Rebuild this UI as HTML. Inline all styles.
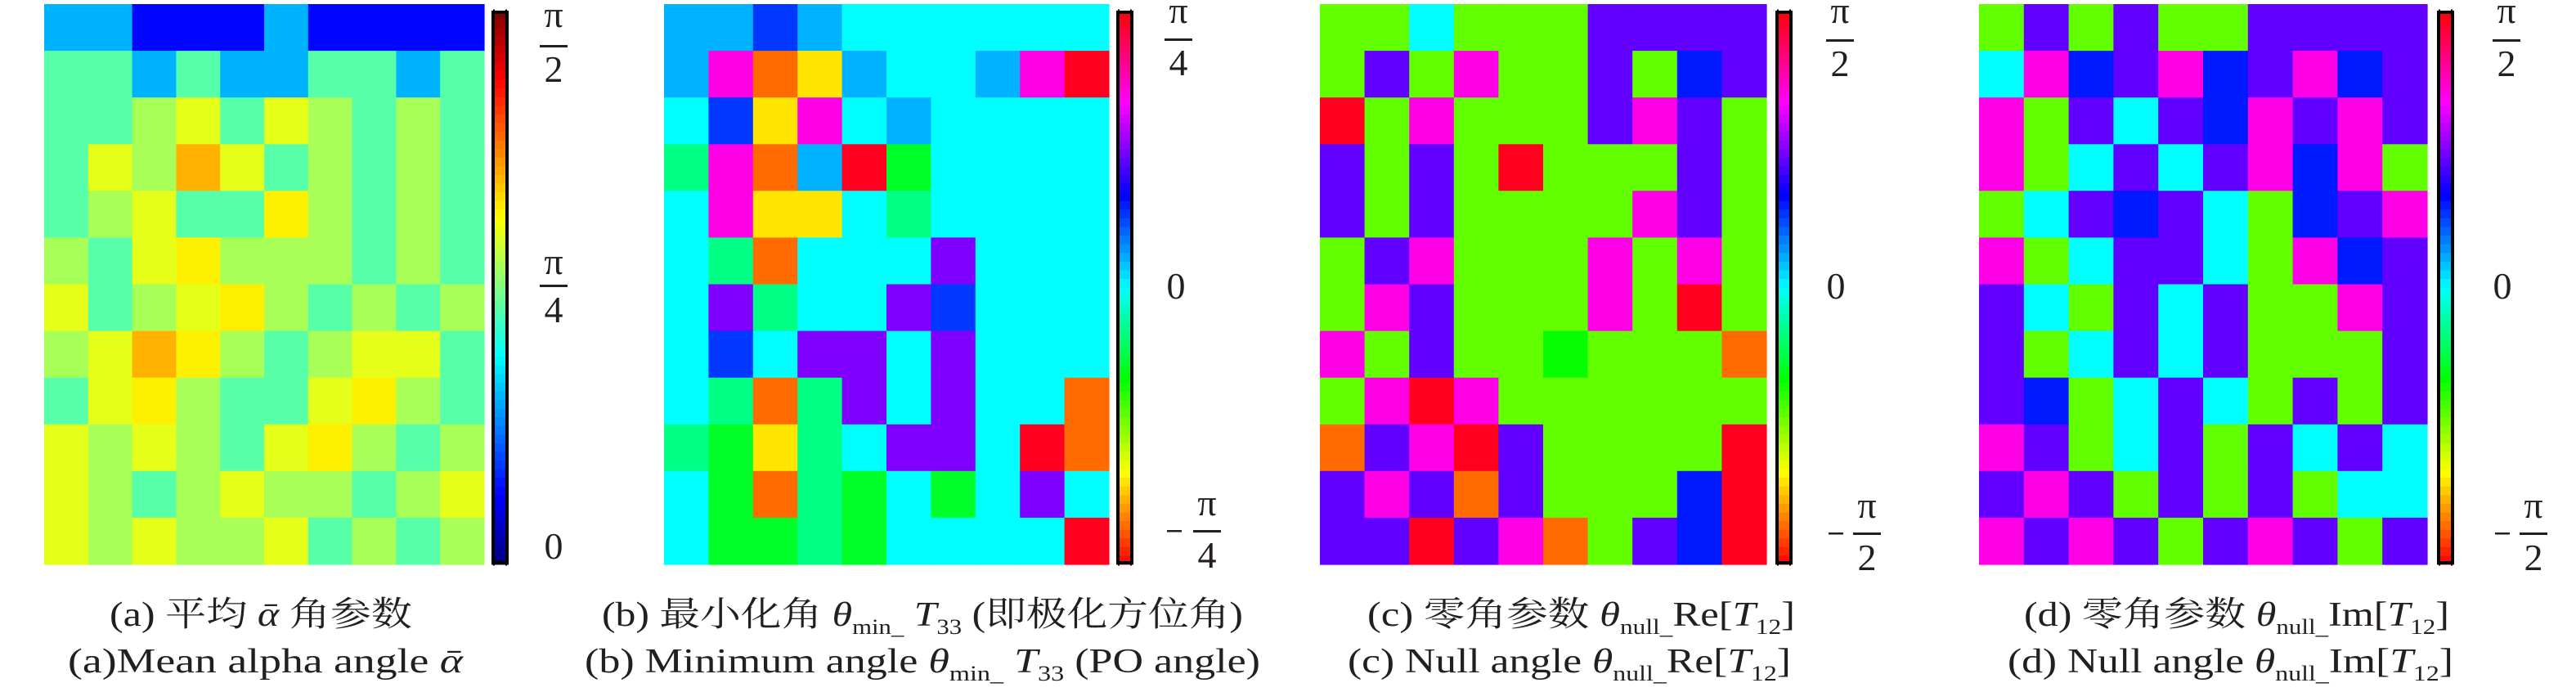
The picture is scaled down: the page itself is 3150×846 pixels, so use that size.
<!DOCTYPE html>
<html><head><meta charset="utf-8">
<style>
html,body{margin:0;padding:0;background:#fff;}
#root{position:relative;width:3150px;height:846px;overflow:hidden;}
svg text{font-family:"Liberation Serif","Noto Serif CJK SC","Noto Sans CJK SC",serif;fill:#231f1f;}
</style></head>
<body>
<div id="root">
<svg id="fig" width="3150" height="846" viewBox="0 0 3150 846" xmlns="http://www.w3.org/2000/svg">
<g id="panels"></g>
<g id="labels">
  <g font-size="46">
    <text x="677" y="33" text-anchor="middle">π</text>
    <rect x="660" y="55" width="34" height="3" fill="#231f1f"/>
    <text x="677" y="100" text-anchor="middle">2</text>
    <text x="677" y="335" text-anchor="middle">π</text>
    <rect x="660" y="348" width="34" height="3" fill="#231f1f"/>
    <text x="677" y="394" text-anchor="middle">4</text>
    <text x="677" y="683" text-anchor="middle">0</text>
  </g>
  <g font-size="46">
    <text x="1441" y="28" text-anchor="middle">π</text>
    <rect x="1424" y="47" width="34" height="3" fill="#231f1f"/>
    <text x="1441" y="92" text-anchor="middle">4</text>
    <text x="1438" y="365" text-anchor="middle">0</text>
    <rect x="1427" y="648" width="18" height="2.5" fill="#231f1f"/>
    <text x="1476" y="630" text-anchor="middle">π</text>
    <rect x="1459" y="648" width="34" height="3" fill="#231f1f"/>
    <text x="1476" y="694" text-anchor="middle">4</text>
  </g>
  <g font-size="46">
    <text x="2250" y="28" text-anchor="middle">π</text>
    <rect x="2233" y="48" width="34" height="3" fill="#231f1f"/>
    <text x="2250" y="93" text-anchor="middle">2</text>
    <text x="2245" y="365" text-anchor="middle">0</text>
    <rect x="2236" y="651" width="18" height="2.5" fill="#231f1f"/>
    <text x="2283" y="633" text-anchor="middle">π</text>
    <rect x="2266" y="651" width="34" height="3" fill="#231f1f"/>
    <text x="2283" y="697" text-anchor="middle">2</text>
  </g>
  <g font-size="46">
    <text x="3065" y="28" text-anchor="middle">π</text>
    <rect x="3048" y="48" width="34" height="3" fill="#231f1f"/>
    <text x="3065" y="93" text-anchor="middle">2</text>
    <text x="3060" y="365" text-anchor="middle">0</text>
    <rect x="3051" y="651" width="18" height="2.5" fill="#231f1f"/>
    <text x="3098" y="633" text-anchor="middle">π</text>
    <rect x="3081" y="651" width="34" height="3" fill="#231f1f"/>
    <text x="3098" y="697" text-anchor="middle">2</text>
  </g>
  <g font-size="42">
    <text x="134" y="765" textLength="370" lengthAdjust="spacingAndGlyphs">(a) 平均 <tspan font-style="italic">ᾱ</tspan> 角参数</text>
    <text x="83" y="822" textLength="483" lengthAdjust="spacingAndGlyphs">(a)Mean alpha angle <tspan font-style="italic">ᾱ</tspan></text>
    <text x="736" y="765" textLength="784" lengthAdjust="spacingAndGlyphs">(b) 最小化角 <tspan font-style="italic">θ</tspan><tspan font-size="26" dy="10">min_</tspan><tspan dy="-10" font-style="italic"> T</tspan><tspan font-size="26" dy="10">33</tspan><tspan dy="-10"> (即极化方位角)</tspan></text>
    <text x="715" y="822" textLength="826" lengthAdjust="spacingAndGlyphs">(b) Minimum angle <tspan font-style="italic">θ</tspan><tspan font-size="26" dy="10">min_</tspan><tspan dy="-10" font-style="italic"> T</tspan><tspan font-size="26" dy="10">33</tspan><tspan dy="-10"> (PO angle)</tspan></text>
    <text x="1672" y="765" textLength="523" lengthAdjust="spacingAndGlyphs">(c) 零角参数 <tspan font-style="italic">θ</tspan><tspan font-size="26" dy="10">null_</tspan><tspan dy="-10">Re[</tspan><tspan font-style="italic">T</tspan><tspan font-size="26" dy="10">12</tspan><tspan dy="-10">]</tspan></text>
    <text x="1648" y="822" textLength="542" lengthAdjust="spacingAndGlyphs">(c) Null angle <tspan font-style="italic">θ</tspan><tspan font-size="26" dy="10">null_</tspan><tspan dy="-10">Re[</tspan><tspan font-style="italic">T</tspan><tspan font-size="26" dy="10">12</tspan><tspan dy="-10">]</tspan></text>
    <text x="2475" y="765" textLength="520" lengthAdjust="spacingAndGlyphs">(d) 零角参数 <tspan font-style="italic">θ</tspan><tspan font-size="26" dy="10">null_</tspan><tspan dy="-10">Im[</tspan><tspan font-style="italic">T</tspan><tspan font-size="26" dy="10">12</tspan><tspan dy="-10">]</tspan></text>
    <text x="2455" y="822" textLength="545" lengthAdjust="spacingAndGlyphs">(d) Null angle <tspan font-style="italic">θ</tspan><tspan font-size="26" dy="10">null_</tspan><tspan dy="-10">Im[</tspan><tspan font-style="italic">T</tspan><tspan font-size="26" dy="10">12</tspan><tspan dy="-10">]</tspan></text>
  </g>
</g>
</svg>
</div>
<script>
const gridA = ["bbdddbdddd","ccbcbbccbc","ccgycygcgc","cygoycgcgc","cgyccYgcgc","gcyYgggcgc","ycgyYgcgcg","gyoYgcgyyc","cyYgccyYgc","ygygcyYgcg","ygcgyggcgy","ygyggycgcg"];
const gridB = ["CCbCcccccc","CmoyCccCmr","cbymcCcccc","GmoCrgcccc","cmyycGcccc","cGocccpccc","cpGccpbccc","cbcppcpccc","cGoGpcpcco","GgyGcppcro","cgoGgcgcpc","cggGgccccr"];
const gridC = ["ggcgggpppp","gpgmggpgbp","rgmgggpmpg","pgpgrgggpg","pgpggggmpg","gpmgggmgmg","gmpgggmgrg","mgpggGgggo","gmrmgggggg","opmrpggggr","pmpopgggbr","pprpmogpbr"];
const gridD = ["gpgpggpppp","cmbpmbpmbp","mgpcpbmpmp","mgcpcpmbmg","gcpbpcgbpm","mgcppcgmbp","pcgpcpggmp","pgcpcpgggp","pbgcpcgpgp","mpgcpgpcpc","pmpgpgpgcc","mpmpgpmpgp"];
const keysA = ["d","b","c","g","y","Y","o"];
const valsA = [0.13,0.30,0.46,0.54,0.60,0.64,0.70];
const keysB = ["c","C","b","g","G","p","m","r","o","y"];
const valsB = [0.50,0.55,0.63,0.36,0.42,0.75,0.85,0.98,0.07,0.15];
const keysCD = ["g","G","c","b","p","m","r","o"];
const valsCD = [0.27,0.33,0.50,0.65,0.73,0.85,0.98,0.07];
const tickPosA = [1,0.5,0];
const tickPosSym = [1,0.5,0];

function jet(t){
  const r=Math.min(1,Math.max(0,1.5-Math.abs(4*t-3)));
  const g=Math.min(1,Math.max(0,1.5-Math.abs(4*t-2)));
  const b=Math.min(1,Math.max(0,1.5-Math.abs(4*t-1)));
  return `rgb(${Math.round(r*255)},${Math.round(g*255)},${Math.round(b*255)})`;
}
function hsv(t){ return `hsl(${(t*360)%360},100%,50%)`; }

const NS="http://www.w3.org/2000/svg";
const panelsG=document.getElementById('panels');
const panels=[
  {id:'a',grid:gridA,keys:keysA,vals:valsA,cmap:jet,x0:54,x1:592,cb:601},
  {id:'b',grid:gridB,keys:keysB,vals:valsB,cmap:hsv,x0:812,x1:1356,cb:1365},
  {id:'c',grid:gridC,keys:keysCD,vals:valsCD,cmap:hsv,x0:1614,x1:2160,cb:2171},
  {id:'d',grid:gridD,keys:keysCD,vals:valsCD,cmap:hsv,x0:2420,x1:2968,cb:2980}
];
const Y0=5, Y1=690, CB0=13, CB1=690;
panels.forEach(p=>{
  const g=document.createElementNS(NS,'g');
  
  
  panelsG.appendChild(g);
  const rows=p.grid.length, cols=p.grid[0].length;
  const cw=(p.x1-p.x0)/cols, ch=(Y1-Y0)/rows;
  p.grid.forEach((row,ri)=>{
    [...row].forEach((k,ci)=>{
      const v=p.vals[p.keys.indexOf(k)];
      const r=document.createElementNS(NS,'rect');
      
      
      r.setAttribute('x',(p.x0+ci*cw).toFixed(1));
      r.setAttribute('y',(Y0+ri*ch).toFixed(1));
      r.setAttribute('width',(cw+0.6).toFixed(1));
      r.setAttribute('height',(ch+0.6).toFixed(1));
      r.setAttribute('fill',p.cmap(v));
      g.appendChild(r);
    });
  });
  const cbg=document.createElementNS(NS,'g');
  
  
  panelsG.appendChild(cbg);
  const n=64, h=(CB1-CB0)/n;
  for(let i=0;i<n;i++){
    const t=(n-1-i+0.5)/n;
    const r=document.createElementNS(NS,'rect');
    r.setAttribute('x',p.cb); r.setAttribute('y',(CB0+i*h).toFixed(2));
    r.setAttribute('width',21); r.setAttribute('height',(h+0.5).toFixed(2));
    r.setAttribute('fill',p.cmap(t));
    cbg.appendChild(r);
  }
  const bd=document.createElementNS(NS,'rect');
  bd.setAttribute('x',p.cb+2); bd.setAttribute('y',CB0+2);
  bd.setAttribute('width',17); bd.setAttribute('height',CB1-CB0-4);
  bd.setAttribute('fill','none'); bd.setAttribute('stroke','#000'); bd.setAttribute('stroke-width',4);
  cbg.appendChild(bd);
  (p.id==='a'?tickPosA:tickPosSym).forEach(tv=>{
    const y=CB1-(CB1-CB0)*tv;
    [p.cb+2,p.cb+17].forEach(xx=>{
      const t=document.createElementNS(NS,'rect');
      t.setAttribute('x',xx); t.setAttribute('y',y-1.5); t.setAttribute('width',2); t.setAttribute('height',3);
      t.setAttribute('fill','#000'); cbg.appendChild(t);
    });
  });
});
</script>
</body></html>
